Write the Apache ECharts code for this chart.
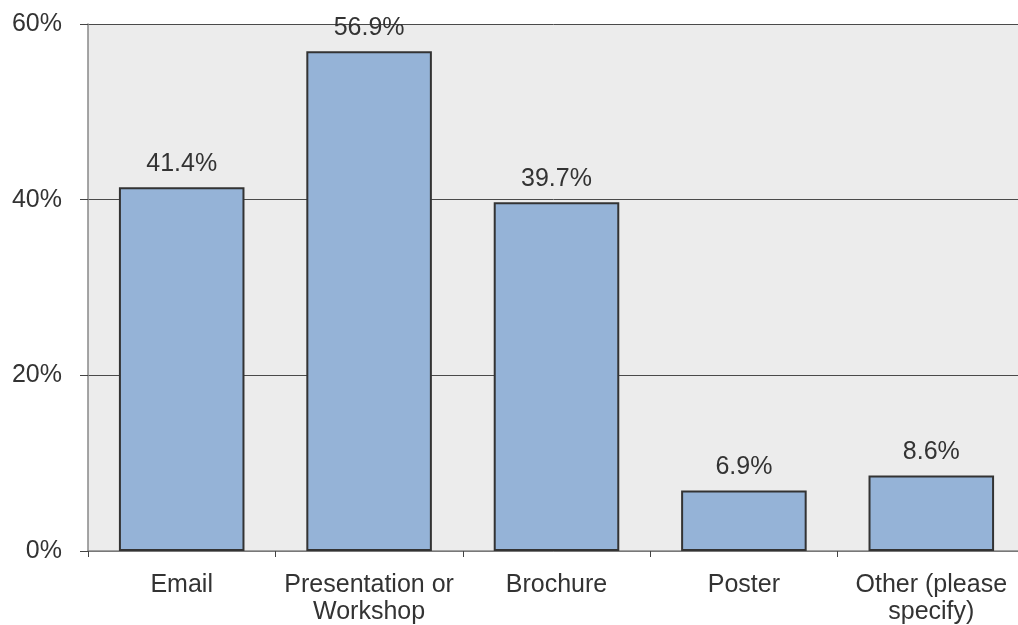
<!DOCTYPE html>
<html>
<head>
<meta charset="utf-8">
<script src="https://cdn.jsdelivr.net/npm/echarts@6/dist/echarts.min.js"></script>
<style>
  html, body { margin: 0; padding: 0; background: #fff; }
  #chart { width: 1018px; height: 625px; }
</style>
</head>
<body>
<div id="chart"></div>
<script>
const categories = ['Email', 'Presentation or\nWorkshop', 'Brochure', 'Poster', 'Other (please\nspecify)'];
const values = [41.4, 56.9, 39.7, 6.9, 8.6];
const yTicks = [0, 20, 40, 60];

const chart = echarts.init(document.getElementById('chart'));

const font = 'Liberation Sans, Arial, sans-serif';

const option = {
    animation: false,
    grid: {
        left: 88,
        right: -7,
        top: 24,
        bottom: 74,
        outerBoundsMode: 'none',
        show: true,
        backgroundColor: '#ececec',
        borderWidth: 0
    },
    xAxis: {
        type: 'category',
        data: categories,
        axisLine: { lineStyle: { color: '#888', width: 1.5 } },
        axisTick: { show: true, length: 6, lineStyle: { color: '#444' } },
        axisLabel: {
            color: '#333',
            fontSize: 25,
            fontFamily: font,
            lineHeight: 27,
            margin: 21,
            interval: 0
        }
    },
    yAxis: {
        type: 'value',
        min: yTicks[0],
        max: yTicks[yTicks.length - 1],
        interval: 20,
        axisLine: { show: true, lineStyle: { color: '#888', width: 1.5 } },
        axisTick: { show: true, inside: false, length: 8, lineStyle: { color: '#444' } },
        splitLine: { lineStyle: { color: '#4a4a4a', width: 1 } },
        axisLabel: {
            color: '#333',
            fontSize: 25,
            fontFamily: font,
            margin: 26,
            formatter: v => v + '%'
        }
    },
    series: [{
        type: 'bar',
        data: values,
        barCategoryGap: '33%',
        itemStyle: {
            color: '#95b3d7',
            borderColor: '#333',
            borderWidth: 2
        },
        label: {
            show: true,
            position: 'top',
            distance: 11,
            color: '#333',
            fontSize: 25,
            fontFamily: font,
            formatter: p => p.value.toFixed(1) + '%'
        }
    }]
};

chart.setOption(option);
</script>
</body>
</html>
